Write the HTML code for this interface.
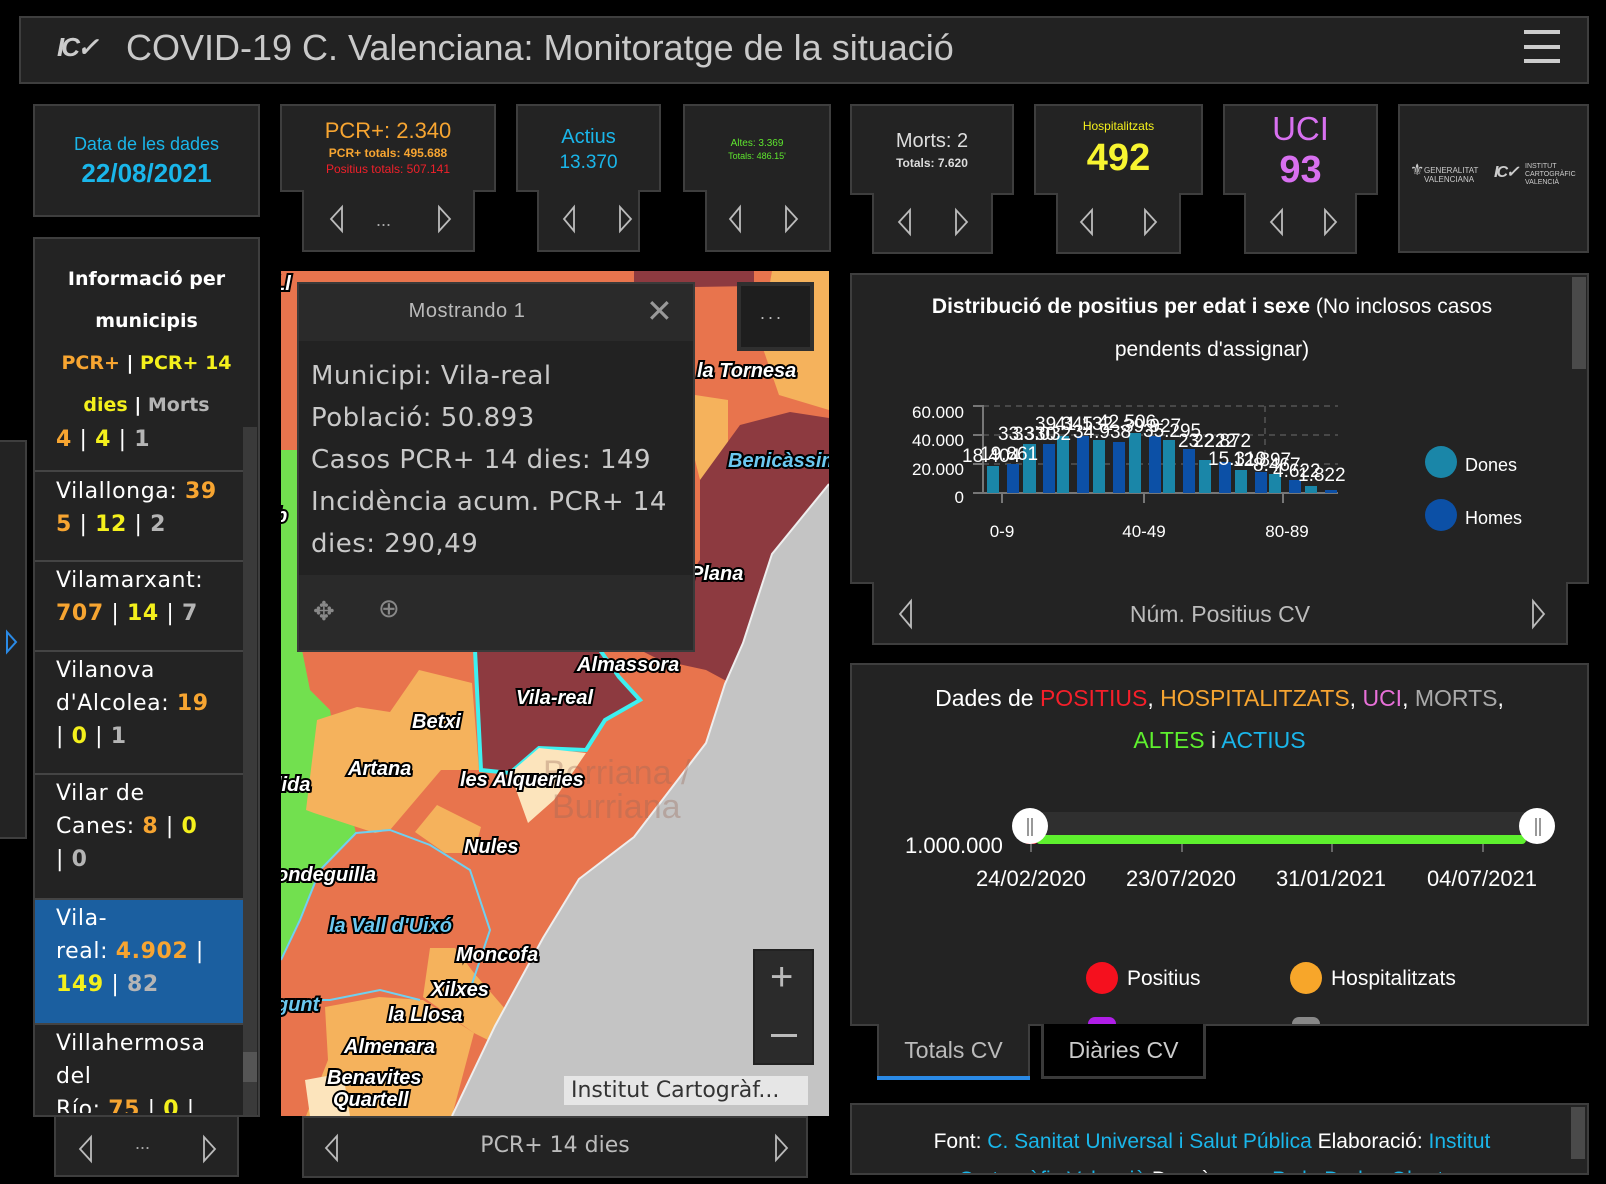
<!DOCTYPE html>
<html><head><meta charset="utf-8">
<style>
*{margin:0;padding:0;box-sizing:border-box}
body{width:1606px;height:1184px;background:#000;position:relative;overflow:hidden;font-family:"Liberation Sans",sans-serif;color:#ddd}
.b{position:absolute;background:#232323;border:2px solid #3e3e3e}
.t{position:absolute;white-space:nowrap}
.c{text-align:center}
svg{position:absolute;left:0;top:0}
.lp{font-family:"DejaVu Sans",sans-serif}
.o{color:#f7a531;font-weight:bold}.y{color:#f4f01c;font-weight:bold}.g{color:#b5b5b5;font-weight:bold}
</style></head><body>

<!-- header -->
<div class="b" style="left:19px;top:16px;width:1570px;height:68px;background:#222"></div>
<div class="t" style="left:57px;top:32px;font-size:26px;font-weight:bold;color:#ccc;letter-spacing:-3px;font-style:italic">IC✓</div>
<div class="t" style="left:126px;top:27px;font-size:36px;color:#c9c9c9">COVID-19 C. Valenciana: Monitoratge de la situació</div>
<div style="position:absolute;left:1524px;top:30px;width:36px;height:4px;background:#ccc"></div>
<div style="position:absolute;left:1524px;top:45px;width:36px;height:4px;background:#ccc"></div>
<div style="position:absolute;left:1524px;top:59px;width:36px;height:4px;background:#ccc"></div>

<!-- top cards -->
<div class="b" style="left:33px;top:104px;width:227px;height:113px"></div>
<div class="t c" style="left:33px;top:134px;width:227px;font-size:18px;color:#1ab6ea">Data de les dades</div>
<div class="t c" style="left:33px;top:158px;width:227px;font-size:26px;font-weight:bold;color:#1ab6ea">22/08/2021</div>

<div class="b" style="left:302px;top:189px;width:173px;height:63px"></div>
<div class="b" style="left:280px;top:104px;width:216px;height:88px;border-bottom-width:2px"></div>
<div style="position:absolute;left:304px;top:188px;width:169px;height:6px;background:#232323"></div>
<div class="t c" style="left:280px;top:118px;width:216px;font-size:22px;color:#f7a531">PCR+: 2.340</div>
<div class="t c" style="left:280px;top:146px;width:216px;font-size:12px;font-weight:bold;color:#f7a531">PCR+ totals: 495.688</div>
<div class="t c" style="left:280px;top:162px;width:216px;font-size:12px;color:#f0202a">Positius totals: 507.141</div>
<div class="t" style="left:376px;top:210px;font-size:18px;color:#aaa">...</div>

<div class="b" style="left:537px;top:189px;width:103px;height:63px"></div>
<div class="b" style="left:516px;top:104px;width:145px;height:88px"></div>
<div style="position:absolute;left:539px;top:188px;width:99px;height:6px;background:#232323"></div>
<div class="t c" style="left:516px;top:126px;width:145px;font-size:20px;color:#1ab6ea">Actius</div>
<div class="t c" style="left:516px;top:152px;width:145px;font-size:19px;color:#1ab6ea">13.370</div>

<div class="b" style="left:705px;top:189px;width:126px;height:63px"></div>
<div class="b" style="left:683px;top:104px;width:148px;height:88px"></div>
<div style="position:absolute;left:707px;top:188px;width:122px;height:6px;background:#232323"></div>
<div class="t c" style="left:683px;top:138px;width:148px;font-size:10px;color:#5ee62e">Altes: 3.369</div>
<div class="t c" style="left:683px;top:151px;width:148px;font-size:9px;color:#5ee62e">Totals: 486.15'</div>

<div class="b" style="left:872px;top:192px;width:121px;height:62px"></div>
<div class="b" style="left:850px;top:104px;width:164px;height:91px"></div>
<div style="position:absolute;left:874px;top:191px;width:117px;height:6px;background:#232323"></div>
<div class="t c" style="left:850px;top:130px;width:164px;font-size:20px;color:#ddd">Morts: 2</div>
<div class="t c" style="left:850px;top:156px;width:164px;font-size:12px;font-weight:bold;color:#ddd">Totals: 7.620</div>

<div class="b" style="left:1056px;top:192px;width:125px;height:62px"></div>
<div class="b" style="left:1034px;top:104px;width:169px;height:91px"></div>
<div style="position:absolute;left:1058px;top:191px;width:121px;height:6px;background:#232323"></div>
<div class="t c" style="left:1034px;top:119px;width:169px;font-size:12px;color:#f4f01c">Hospitalitzats</div>
<div class="t c" style="left:1034px;top:137px;width:169px;font-size:38px;font-weight:bold;color:#f8f530">492</div>

<div class="b" style="left:1244px;top:192px;width:113px;height:62px"></div>
<div class="b" style="left:1223px;top:104px;width:155px;height:91px"></div>
<div style="position:absolute;left:1246px;top:191px;width:109px;height:6px;background:#232323"></div>
<div class="t c" style="left:1223px;top:110px;width:155px;font-size:33px;color:#d870f0">UCI</div>
<div class="t c" style="left:1223px;top:149px;width:155px;font-size:38px;font-weight:bold;color:#d870f0">93</div>

<div class="b" style="left:1398px;top:104px;width:191px;height:149px"></div>
<div class="t" style="left:1410px;top:160px;font-size:16px;color:#ccc">⚜</div>
<div class="t" style="left:1424px;top:166px;font-size:8px;line-height:9px;color:#ccc">GENERALITAT<br>VALENCIANA</div>
<div class="t" style="left:1494px;top:162px;font-size:16px;font-weight:bold;color:#ccc;font-style:italic;letter-spacing:-2px">IC✓</div>
<div class="t" style="left:1525px;top:163px;font-size:7px;line-height:8px;color:#ccc">INSTITUT<br>CARTOGRÀFIC<br>VALENCIÀ</div>

<!-- left side tab -->
<div class="b" style="left:-2px;top:440px;width:29px;height:399px"></div>

<!-- left panel -->
<div class="b" style="left:33px;top:237px;width:227px;height:880px"></div>
<div class="t c lp" style="left:33px;top:258px;width:227px;font-size:19px;font-weight:bold;color:#fff;line-height:42px;white-space:normal">Informació per<br>municipis<br><span class="o">PCR+</span> | <span class="y">PCR+ 14</span><br><span class="y">dies</span> | <span class="g">Morts</span></div>
<div style="position:absolute;left:243px;top:427px;width:14px;height:688px;background:#3a3a3a"></div>
<div style="position:absolute;left:243px;top:1052px;width:14px;height:30px;background:#555"></div>
<div style="position:absolute;left:35px;top:470px;width:208px;height:2px;background:#444"></div>
<div style="position:absolute;left:35px;top:560px;width:208px;height:2px;background:#444"></div>
<div style="position:absolute;left:35px;top:650px;width:208px;height:2px;background:#444"></div>
<div style="position:absolute;left:35px;top:773px;width:208px;height:2px;background:#444"></div>
<div style="position:absolute;left:35px;top:898px;width:208px;height:2px;background:#444"></div>
<div style="position:absolute;left:35px;top:900px;width:208px;height:123px;background:#1b5fa0"></div>
<div style="position:absolute;left:35px;top:1023px;width:208px;height:2px;background:#444"></div>
<div class="lp" style="position:absolute;left:56px;top:423px;width:187px;height:690px;overflow:hidden;font-size:22px;line-height:33px;color:#fff;letter-spacing:0.6px">
<div style="height:47px"><span class="o">4</span> | <span class="y">4</span> | <span class="g">1</span></div>
<div style="height:90px;padding-top:5px">Vilallonga: <span class="o">39<br>5</span> | <span class="y">12</span> | <span class="g">2</span></div>
<div style="height:90px;padding-top:4px">Vilamarxant:<br><span class="o">707</span> | <span class="y">14</span> | <span class="g">7</span></div>
<div style="height:123px;padding-top:4px">Vilanova<br>d'Alcolea: <span class="o">19</span><br> | <span class="y">0</span> | <span class="g">1</span></div>
<div style="height:125px;padding-top:4px">Vilar de<br>Canes: <span class="o">8</span> | <span class="y">0</span><br>| <span class="g">0</span></div>
<div style="height:125px;padding-top:4px">Vila-<br>real: <span class="o">4.902</span> |<br><span class="y">149</span> | <span class="g">82</span></div>
<div style="padding-top:4px">Villahermosa<br>del<br>Río: <span class="o">75</span> | <span class="y">0</span> |</div>
</div>
<div class="b" style="left:54px;top:1115px;width:185px;height:62px"></div>
<div class="t" style="left:135px;top:1133px;font-size:18px;color:#aaa">...</div>

<!-- map -->
<div style="position:absolute;left:279px;top:269px;width:552px;height:849px;background:#000"></div>
<svg width="1606" height="1184" viewBox="0 0 1606 1184" style="pointer-events:none">
<defs><clipPath id="mc"><rect x="281" y="271" width="548" height="845"/></clipPath></defs>
<g clip-path="url(#mc)">
<rect x="281" y="271" width="548" height="845" fill="#e8744d"/>
<polygon points="772,271 829,271 829,410 779,395 760,340" fill="#f5b25c"/>
<polygon points="695,395 728,400 728,455 700,480 690,440" fill="#f5b25c"/>
<polygon points="634,271 754,271 754,286 634,288" fill="#8d3a40"/>
<polygon points="700,480 740,425 790,412 829,418 829,484 772,555 745,640 732,684 706,670 660,660 640,650 700,560" fill="#8d3a40"/>
<polygon points="475,650 481,770 510,773 539,748 586,750 605,720 640,700 619,677 600,650" fill="#8d3a40" stroke="#3ef0f0" stroke-width="4"/>
<polygon points="281,450 300,450 300,640 310,690 330,710 340,770 356,833 320,870 300,920 281,960" fill="#72e04f"/>
<polygon points="317,720 357,707 390,712 419,670 472,683 479,770 441,770 390,830 375,833 314,813 306,810" fill="#f5b25c"/>
<polygon points="415,832 437,805 481,827 474,853 445,853" fill="#f5b25c"/>
<polygon points="510,773 539,748 586,753 554,800 528,823" fill="#fce4bc"/>
<polygon points="430,948 455,948 474,973 506,1010 488,1040 474,1033 423,997" fill="#f5b25c"/>
<polygon points="325,1007 379,997 423,1000 474,1033 452,1116 306,1116 328,1060" fill="#f5b25c"/>
<polygon points="305,1080 343,1073 350,1116 310,1116" fill="#fce4bc"/>
<polygon points="829,484 772,554 743,643 725,684 706,743 634,837 579,879 543,938 495,1026 452,1116 829,1116" fill="#c4c4c4"/>
<polyline points="829,484 772,554 743,643 725,684 706,743 634,837 579,879 543,938 495,1026 452,1116" fill="none" stroke="#eee" stroke-width="2"/>
<polyline points="281,960 300,920 320,870 356,833 390,830 430,845 470,870 490,930 470,990" fill="none" stroke="#6fd0f0" stroke-width="2"/>
<polyline points="281,1000 330,1000 380,990 420,1000" fill="none" stroke="#6fd0f0" stroke-width="2"/>
<g font-family="Liberation Sans" font-size="34" fill="#9a6a5a" opacity="0.35">
<text x="543" y="784">Borriana /</text><text x="552" y="818">Burriana</text>
</g>
<g font-family="Liberation Sans" font-weight="bold" font-style="italic" font-size="20" fill="#fff" stroke="#000" stroke-width="4" paint-order="stroke">
<text x="273" y="290">Ll</text><text x="275" y="522">b</text>
<text x="697" y="377">la Tornesa</text>
<text x="728" y="467" fill="#6cc8f0">Benicàssim</text>
<text x="690" y="580">Plana</text>
<text x="577" y="671">Almassora</text>
<text x="516" y="704">Vila-real</text>
<text x="412" y="728">Betxi</text>
<text x="348" y="775">Artana</text>
<text x="276" y="791">lida</text>
<text x="460" y="786">les Alqueries</text>
<text x="464" y="853">Nules</text>
<text x="276" y="881">ondeguilla</text>
<text x="329" y="932" fill="#6cc8f0">la Vall d'Uixó</text>
<text x="456" y="961">Moncofa</text>
<text x="431" y="996">Xilxes</text>
<text x="388" y="1021">la Llosa</text>
<text x="344" y="1053">Almenara</text>
<text x="327" y="1084">Benavites</text>
<text x="333" y="1106">Quartell</text>
<text x="276" y="1011" fill="#6cc8f0">gunt</text>
</g>
</g>
</svg>
<!-- popup -->
<div style="position:absolute;left:297px;top:282px;width:398px;height:370px;background:#2a2a2a;border:2px solid #3a3a3a"></div>
<div style="position:absolute;left:299px;top:341px;width:394px;height:234px;background:#222"></div>
<div class="t c" style="left:297px;top:300px;width:340px;font-size:20px;color:#bbb;letter-spacing:0.5px">Mostrando 1</div>
<div class="t" style="left:646px;top:292px;font-size:32px;color:#999;font-weight:100">✕</div>
<div class="lp" style="position:absolute;left:311px;top:355px;font-size:26px;line-height:42px;color:#c9c9c9;letter-spacing:0.5px">Municipi: Vila-real<br>Població: 50.893<br>Casos PCR+ 14 dies: 149<br>Incidència acum. PCR+ 14<br>dies: 290,49</div>
<div class="t" style="left:313px;top:596px;font-size:26px;color:#888">✥</div>
<div class="t" style="left:378px;top:593px;font-size:26px;color:#888">⊕</div>
<div style="position:absolute;left:737px;top:282px;width:77px;height:69px;background:#1e1e1e;border:4px solid #2f2f2f"></div>
<div class="t" style="left:760px;top:303px;font-size:18px;color:#bbb;letter-spacing:3px">...</div>
<div style="position:absolute;left:753px;top:949px;width:61px;height:116px;background:#2b2b2b;border:2px solid #222"></div>
<div class="t" style="left:770px;top:955px;font-size:40px;color:#bbb">+</div>
<div style="position:absolute;left:771px;top:1034px;width:26px;height:3px;background:#bbb"></div>
<div style="position:absolute;left:564px;top:1076px;width:244px;height:29px;background:#e6e6e6"></div>
<div class="t lp" style="left:571px;top:1078px;font-size:22px;color:#333">Institut Cartogràf...</div>
<div class="b" style="left:302px;top:1116px;width:506px;height:62px"></div>
<div class="t c lp" style="left:302px;top:1133px;width:506px;font-size:22px;color:#bbb">PCR+ 14 dies</div>

<!-- chart panel -->
<div class="b" style="left:872px;top:580px;width:696px;height:65px"></div>
<div class="b" style="left:850px;top:273px;width:739px;height:311px"></div>
<div style="position:absolute;left:874px;top:578px;width:692px;height:8px;background:#232323"></div>
<div style="position:absolute;left:1572px;top:277px;width:14px;height:92px;background:#4a4a4a"></div>
<div class="t c" style="left:852px;top:295px;width:720px;font-size:21px;color:#fff"><b>Distribució de positius per edat i sexe</b> (No inclosos casos</div>
<div class="t c" style="left:852px;top:338px;width:720px;font-size:21px;color:#fff">pendents d'assignar)</div>
<div class="t c" style="left:872px;top:601px;width:696px;font-size:23px;color:#bbb">Núm. Positius CV</div>
<svg width="1606" height="1184" viewBox="0 0 1606 1184" style="pointer-events:none">
<g stroke="#555" stroke-width="1.5" stroke-dasharray="6,5">
<line x1="983" y1="406" x2="1338" y2="406"/><line x1="983" y1="435" x2="1338" y2="435"/><line x1="983" y1="464" x2="1338" y2="464"/>
<line x1="1265" y1="406" x2="1265" y2="493"/>
</g>
<line x1="983" y1="405" x2="983" y2="494" stroke="#777" stroke-width="2"/>
<line x1="973" y1="493" x2="1338" y2="493" stroke="#777" stroke-width="2"/>
<g stroke="#777" stroke-width="2"><line x1="973" y1="406" x2="983" y2="406"/><line x1="973" y1="435" x2="983" y2="435"/><line x1="973" y1="464" x2="983" y2="464"/>
<line x1="1002" y1="493" x2="1002" y2="503"/><line x1="1144" y1="493" x2="1144" y2="503"/><line x1="1283" y1="493" x2="1283" y2="503"/></g>
<g fill="#1a86a8">
<rect x="987" y="466" width="12" height="27"/><rect x="1023" y="444" width="13" height="49"/><rect x="1057" y="436" width="12" height="57"/><rect x="1093" y="440" width="12" height="53"/><rect x="1129" y="433" width="12" height="60"/><rect x="1163" y="440" width="12" height="53"/><rect x="1199" y="460" width="12" height="33"/><rect x="1235" y="470" width="12" height="23"/><rect x="1269" y="474" width="12" height="19"/><rect x="1305" y="486" width="12" height="7"/>
</g>
<g fill="#0c50a6">
<rect x="1007" y="464" width="12" height="29"/><rect x="1043" y="444" width="12" height="49"/><rect x="1077" y="436" width="12" height="57"/><rect x="1113" y="442" width="12" height="51"/><rect x="1149" y="436" width="12" height="57"/><rect x="1183" y="449" width="12" height="44"/><rect x="1219" y="462" width="12" height="31"/><rect x="1255" y="472" width="12" height="21"/><rect x="1289" y="480" width="12" height="13"/><rect x="1325" y="490" width="12" height="3"/>
</g>
<g font-family="Liberation Sans" font-size="17" fill="#fff" text-anchor="end">
<text x="964" y="418">60.000</text><text x="964" y="446">40.000</text><text x="964" y="475">20.000</text><text x="964" y="503">0</text>
</g>
<g font-family="Liberation Sans" font-size="17" fill="#fff" text-anchor="middle">
<text x="1002" y="537">0-9</text><text x="1144" y="537">40-49</text><text x="1287" y="537">80-89</text>
</g>
<g font-family="Liberation Sans" font-size="19" fill="#fff">
<text x="962" y="462">18.404</text><text x="980" y="460">19.861</text><text x="998" y="440">33.330</text><text x="1013" y="440">33.032</text>
<text x="1035" y="430">39.345</text><text x="1055" y="430">41.132</text><text x="1073" y="438">34.938</text><text x="1098" y="428">42.506</text>
<text x="1123" y="432">39.927</text><text x="1143" y="437">35.295</text><text x="1178" y="447">23.222</text><text x="1193" y="447">22.872</text>
<text x="1208" y="465">15.310</text><text x="1233" y="466">12.897</text><text x="1253" y="471">8.467</text><text x="1273" y="477">4.622</text><text x="1298" y="481">1.822</text>
</g>
<circle cx="1441" cy="462" r="16" fill="#1a86a8"/><circle cx="1441" cy="515" r="16" fill="#0c50a6"/>
<g font-family="Liberation Sans" font-size="18" fill="#fff"><text x="1465" y="471">Dones</text><text x="1465" y="524">Homes</text></g>
<!-- nav arrows -->
<g fill="none" stroke="#bbb" stroke-width="1.8">
<polygon points="342,207 331,219 342,231"/><polygon points="439,207 450,219 439,231"/>
<polygon points="574,207 564,219 574,231"/><polygon points="620,207 631,219 620,231"/>
<polygon points="740,207 730,219 740,231"/><polygon points="786,207 797,219 786,231"/>
<polygon points="910,210 899,222 910,234"/><polygon points="956,210 967,222 956,234"/>
<polygon points="1092,210 1081,222 1092,234"/><polygon points="1145,210 1156,222 1145,234"/>
<polygon points="1282,210 1271,222 1282,234"/><polygon points="1325,210 1336,222 1325,234"/>
<polygon points="911,601 900,614 911,627"/><polygon points="1533,601 1544,614 1533,627"/>
<polygon points="91,1137 80,1149 91,1161"/><polygon points="204,1137 215,1149 204,1161"/>
<polygon points="337,1136 326,1148 337,1160"/><polygon points="776,1136 787,1148 776,1160"/>
</g>
<polygon points="7,632 16,642 7,652" fill="none" stroke="#2a8ae6" stroke-width="2"/>
</svg>

<!-- series panel -->
<div class="b" style="left:850px;top:663px;width:739px;height:363px"></div>
<div class="t c" style="left:852px;top:685px;width:735px;font-size:23px;color:#fff">Dades de <span style="color:#f51f2a">POSITIUS</span>, <span style="color:#f7a531">HOSPITALITZATS</span>, <span style="color:#e870d8">UCI</span>, <span style="color:#aaa">MORTS</span>,</div>
<div class="t c" style="left:852px;top:727px;width:735px;font-size:23px"><span style="color:#5ef02e">ALTES</span> <span style="color:#fff">i</span> <span style="color:#1ab6ea">ACTIUS</span></div>
<div style="position:absolute;left:1030px;top:812px;width:508px;height:30px;background:#2f2f2f;border-radius:8px"></div>
<div style="position:absolute;left:1024px;top:835px;width:14px;height:9px;background:#f51f2a;border-radius:4px"></div>
<div style="position:absolute;left:1036px;top:835px;width:490px;height:9px;background:#5ef02e;border-radius:4px"></div>
<div style="position:absolute;left:1012px;top:808px;width:36px;height:36px;background:#fff;border-radius:50%"></div>
<div style="position:absolute;left:1519px;top:808px;width:36px;height:36px;background:#fff;border-radius:50%"></div>
<div style="position:absolute;left:1027px;top:818px;width:2px;height:18px;background:#999"></div><div style="position:absolute;left:1031px;top:818px;width:2px;height:18px;background:#999"></div>
<div style="position:absolute;left:1535px;top:818px;width:2px;height:18px;background:#999"></div><div style="position:absolute;left:1539px;top:818px;width:2px;height:18px;background:#999"></div>
<div style="position:absolute;left:1030px;top:844px;width:2px;height:8px;background:#666"></div>
<div style="position:absolute;left:1181px;top:844px;width:2px;height:8px;background:#666"></div>
<div style="position:absolute;left:1331px;top:844px;width:2px;height:8px;background:#666"></div>
<div style="position:absolute;left:1482px;top:844px;width:2px;height:8px;background:#666"></div>
<div class="t" style="left:905px;top:833px;font-size:22px;color:#fff">1.000.000</div>
<div class="t c" style="left:961px;top:866px;width:140px;font-size:22px;color:#fff">24/02/2020</div>
<div class="t c" style="left:1111px;top:866px;width:140px;font-size:22px;color:#fff">23/07/2020</div>
<div class="t c" style="left:1261px;top:866px;width:140px;font-size:22px;color:#fff">31/01/2021</div>
<div class="t c" style="left:1412px;top:866px;width:140px;font-size:22px;color:#fff">04/07/2021</div>
<div style="position:absolute;left:1086px;top:962px;width:32px;height:32px;background:#f5101e;border-radius:50%"></div>
<div class="t" style="left:1127px;top:967px;font-size:21px;color:#fff">Positius</div>
<div style="position:absolute;left:1290px;top:962px;width:32px;height:32px;background:#f7a62a;border-radius:50%"></div>
<div class="t" style="left:1331px;top:967px;font-size:21px;color:#fff">Hospitalitzats</div>
<div style="position:absolute;left:1088px;top:1017px;width:28px;height:7px;background:#b01ee8;border-radius:14px 14px 0 0"></div>
<div style="position:absolute;left:1292px;top:1017px;width:28px;height:7px;background:#888;border-radius:14px 14px 0 0"></div>

<!-- tabs -->
<div style="position:absolute;left:877px;top:1024px;width:153px;height:55px;background:#232323;border:2px solid #3e3e3e;border-top:none"></div>
<div style="position:absolute;left:877px;top:1076px;width:153px;height:4px;background:#2a8ae6"></div>
<div class="t c" style="left:877px;top:1037px;width:153px;font-size:23px;color:#bbb">Totals CV</div>
<div style="position:absolute;left:1041px;top:1024px;width:165px;height:55px;background:#000;border:3px solid #3a3a3a;border-top:none"></div>
<div class="t c" style="left:1041px;top:1037px;width:165px;font-size:23px;color:#ccc">Diàries CV</div>

<!-- footer -->
<div class="b" style="left:850px;top:1103px;width:739px;height:72px;overflow:hidden">
<div style="position:absolute;right:2px;top:2px;width:14px;height:52px;background:#4a4a4a"></div>
<div class="t c" style="left:0;top:18px;width:720px;font-size:21px;color:#fff;line-height:38px">Font: <span style="color:#1ab6ea">C. Sanitat Universal i Salut Pública</span> Elaboració: <span style="color:#1ab6ea">Institut</span><br><span style="color:#1ab6ea">Cartogràfic Valencià</span> Descàrrega: <span style="color:#1ab6ea">P. de Dades Obertes</span></div>
</div>
</body></html>
